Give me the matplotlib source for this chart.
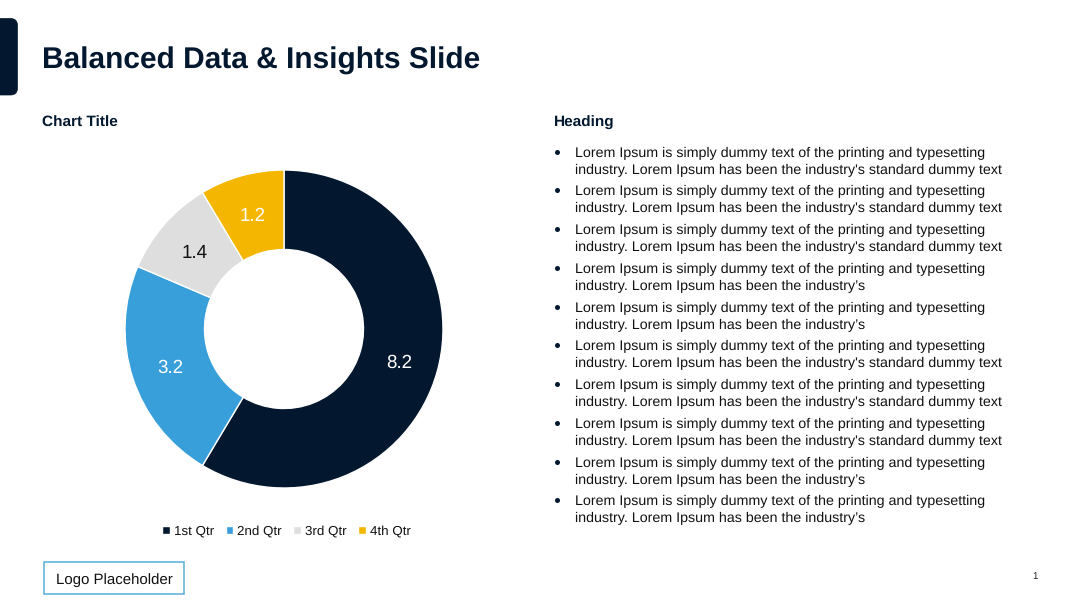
import numpy as np
import matplotlib
matplotlib.use("Agg")
import matplotlib.pyplot as plt
from matplotlib.patches import FancyBboxPatch, Rectangle

plt.rcParams['font.family'] = ['Liberation Sans', 'DejaVu Sans']
plt.rcParams['text.hinting'] = 'no_hinting'
plt.rcParams['text.hinting_factor'] = 8

title = "Balanced Data & Insights Slide"
chart_title = "Chart Title"
heading = "Heading"
logo_text = "Logo Placeholder"
page_number = "1"
categories = ["1st Qtr", "2nd Qtr", "3rd Qtr", "4th Qtr"]
values = [8.2, 3.2, 1.4, 1.2]
colors = ["#03182E", "#389FDB", "#DEDEDE", "#F5B600"]
label_colors = ["white", "white", "#111111", "white"]

line_1 = "Lorem Ipsum is simply dummy text of the printing and typesetting"
line_2_long = "industry. Lorem Ipsum has been the industry's standard dummy text"
line_2_short = "industry. Lorem Ipsum has been the industry\u2019s"
bullets = [line_2_long, line_2_long, line_2_long, line_2_short, line_2_short,
           line_2_long, line_2_long, line_2_long, line_2_short, line_2_short]

W, H = 1080, 608
NAVY = "#03182E"
fig = plt.figure(figsize=(W / 100, H / 100), dpi=100, facecolor="white")

# full-figure pixel overlay (y down)
bg = fig.add_axes([0, 0, 1, 1])
bg.set_xlim(0, W)
bg.set_ylim(H, 0)
bg.axis("off")

# tab at left edge
bg.add_patch(FancyBboxPatch((-20, 18.5), 37.5, 76.5, boxstyle="round,pad=0,rounding_size=7",
                            facecolor=NAVY, edgecolor=NAVY, lw=0.5))

bg.text(42.5, 69, title, fontsize=21.55, fontweight="bold", color=NAVY, va="baseline", ha="left")
bg.text(42.5, 126.5, chart_title, fontsize=11.05, fontweight="bold", color=NAVY, va="baseline", ha="left")
bg.text(554, 126.5, heading, fontsize=11.05, fontweight="bold", color=NAVY, va="baseline", ha="left")

# bullet list
for i, second in enumerate(bullets):
    y0 = 156.6 + i * 38.75
    bg.plot([557], [y0 - 5], marker="o", ms=3.6, color=NAVY, ls="none", mew=0)
    bg.text(575, y0, line_1, fontsize=10.3, color="#111111", va="baseline", ha="left")
    bg.text(575, y0 + 17, second, fontsize=10.3, color="#111111", va="baseline", ha="left")

# logo box
bg.add_patch(Rectangle((44, 562), 140, 32, facecolor="white", edgecolor="#5AADD8", lw=1.1))
bg.text(114.5, 583.5, logo_text, fontsize=10.85, color="#111111", va="baseline", ha="center")
bg.text(1035, 576, page_number, fontsize=7, color="#222222", va="center", ha="center")

# donut: centre (284, 329), outer radius 159 px
R = 159
ax = fig.add_axes([(284 - R) / W, 1 - (329 + R) / H, 2 * R / W, 2 * R / H])
wedges, _ = ax.pie(values, colors=colors, startangle=90, counterclock=False, radius=1,
                   wedgeprops=dict(width=0.5, edgecolor="white", linewidth=1))
ax.set_xlim(-1, 1)
ax.set_ylim(-1, 1)
ax.set_aspect("equal")
for w, v, c in zip(wedges, values, label_colors):
    a = np.deg2rad((w.theta1 + w.theta2) / 2)
    ax.annotate(f"{v:.1f}", (0.75 * np.cos(a), 0.75 * np.sin(a)), xytext=(0, -1.8),
                textcoords="offset points", color=c, fontsize=13.5, ha="center", va="center")

fig.legend(wedges, categories, loc="center", bbox_to_anchor=(286.5 / W, 1 - 531 / H), ncols=4,
           frameon=False, fontsize=9.6, handlelength=0.58, handleheight=0.58,
           handletextpad=0.3, columnspacing=0.85, labelcolor="#111111", borderpad=0)

fig.savefig("out.png", dpi=100, facecolor="white")
